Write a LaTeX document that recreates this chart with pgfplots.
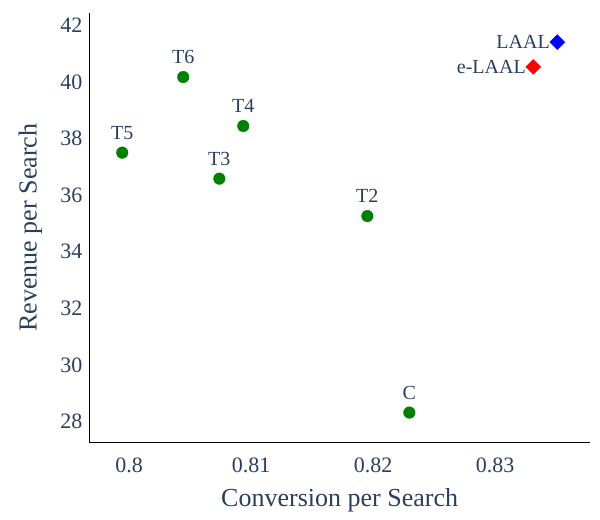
\documentclass[border=0pt]{standalone}
\usepackage{fontspec}
\setmainfont{Liberation Serif}
\usepackage{pgfplots}
\pgfplotsset{compat=1.18}
\definecolor{ptext}{HTML}{2A3F5F}
\definecolor{pgreen}{HTML}{008000}
\definecolor{pred}{HTML}{FF0000}
\definecolor{pblue}{HTML}{0000FF}
\pgfplotstableread{
x y label
0.79943 37.50 T5
0.80443 40.17 T6
0.80739 36.58 T3
0.80935 38.44 T4
0.81952 35.26 T2
0.82296 28.32 C
}\tdata
\pgfplotstableread{
x y label
0.83312 40.53 e-LAAL
}\edata
\pgfplotstableread{
x y label
0.83509 41.40 LAAL
}\ldata
\begin{document}
\begin{tikzpicture}
\begin{axis}[
  at={(0,0)}, anchor=south west,
  scale only axis, width=500.7bp, height=428.7bp,
  xmin=0.79673, xmax=0.83777, ymin=27.28, ymax=42.42,
  clip=false,
  axis x line=bottom, axis y line=left,
  axis line style={-, black, line width=1bp},
  xtick={0.8,0.81,0.82,0.83}, xticklabels={0.8,0.81,0.82,0.83},
  ytick={28,30,32,34,36,38,40,42}, yticklabels={28,30,32,34,36,38,40,42},
  major tick length=0pt, tick style={draw=none},
  ticklabel style={font=\fontsize{22bp}{26bp}\selectfont, text=ptext},
  xticklabel style={inner sep=0pt, anchor=north, yshift=-16bp},
  yticklabel style={inner sep=0pt, anchor=east, xshift=-6.6bp},
  xlabel={Conversion per Search}, ylabel={Revenue per Search},
  label style={font=\fontsize{26bp}{30bp}\selectfont, text=ptext},
  xlabel style={at={(axis description cs:0.5,0)}, anchor=center, yshift=-58bp},
  ylabel style={at={(axis description cs:0,0.5)}, anchor=center, rotate=0, yshift=59bp},
]
\addplot[only marks, mark=*, mark size=5.8bp, color=pgreen,
  nodes near coords, point meta=explicit symbolic,
  every node near coord/.append style={anchor=south, inner sep=0pt, yshift=13bp,
    font=\fontsize{20bp}{24bp}\selectfont, text=ptext}]
  table[x=x, y=y, meta=label] {\tdata};
\addplot[only marks, mark=square*, mark size=5.3bp, mark options={rotate=45}, color=pred,
  nodes near coords, point meta=explicit symbolic,
  every node near coord/.append style={anchor=east, inner sep=0pt, xshift=-7.3bp, yshift=0bp,
    font=\fontsize{20bp}{24bp}\selectfont, text=ptext}]
  table[x=x, y=y, meta=label] {\edata};
\addplot[only marks, mark=square*, mark size=5.3bp, mark options={rotate=45}, color=pblue,
  nodes near coords, point meta=explicit symbolic,
  every node near coord/.append style={anchor=east, inner sep=0pt, xshift=-7.3bp, yshift=0bp,
    font=\fontsize{20bp}{24bp}\selectfont, text=ptext}]
  table[x=x, y=y, meta=label] {\ldata};
\end{axis}
\path[use as bounding box] (-89.3bp,-78bp) rectangle (510.7bp,442bp);
\end{tikzpicture}
\end{document}
